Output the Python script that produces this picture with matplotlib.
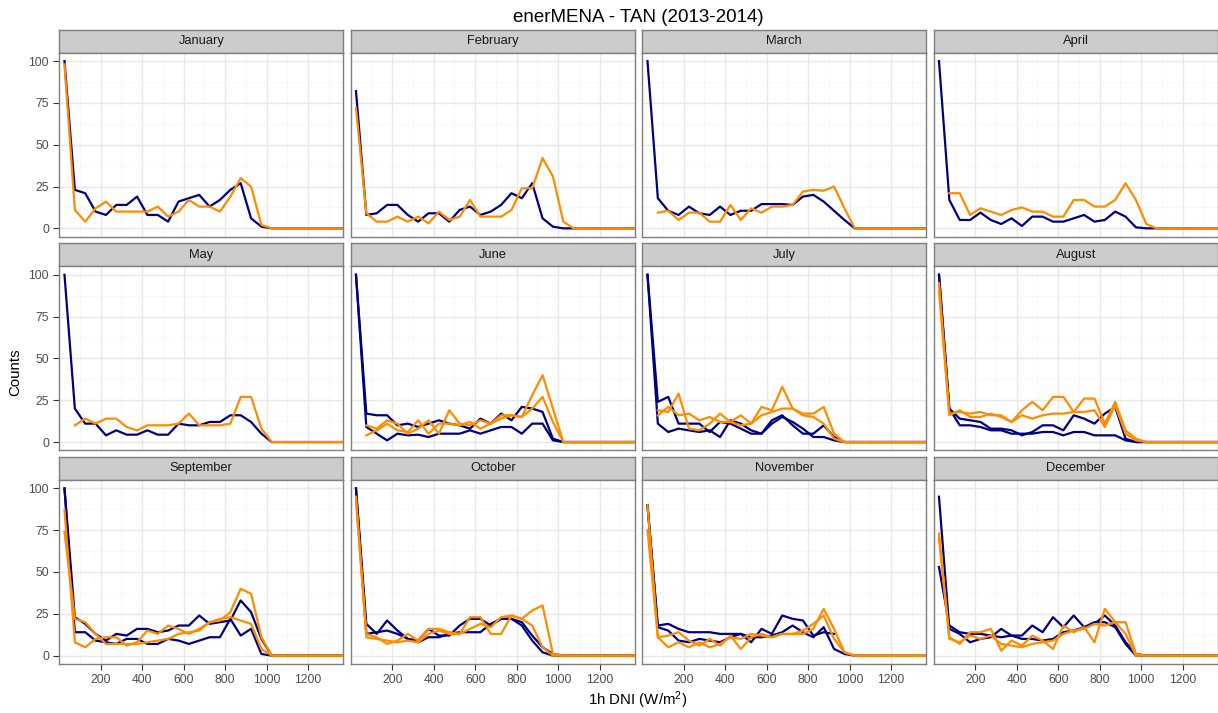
import matplotlib
matplotlib.use('Agg')
import matplotlib.pyplot as plt
import numpy as np

plt.rcParams['font.family'] = ['Liberation Sans', 'DejaVu Sans']
plt.rcParams['mathtext.default'] = 'regular'

# bin centres of 1h DNI (W/m2)
dni = np.arange(25, 1400, 50)

months = ['January', 'February', 'March', 'April', 'May', 'June', 'July',
          'August', 'September', 'October', 'November', 'December']

# values read for bins 25..1025, flat tail after that
jan_navy = [[100, 23, 21, 10, 8, 14, 14, 19, 8, 8, 4, 16, 18, 20, 13, 17, 23, 27, 6, 1, 0]]
jan_orange = [[98, 11, 4, 12, 16, 10, 10, 10, 10, 13, 7, 10, 17, 13, 13, 10, 19, 30, 25, 2, 0]]

feb_navy = [[82, 8, 9, 14, 14, 8, 4, 9, 9, 4, 11, 13, 8, 10, 14, 21, 18, 27, 6, 1, 0]]
feb_orange = [[72, 9, 4, 4, 7, 4, 7, 3, 10, 5, 7, 17, 7, 7, 7, 11, 24, 24, 42, 31, 4, 0]]

mar_navy = [[100, 18, 10.5, 8, 13, 9, 8, 13, 8, 10.5, 10.5, 14.5, 14.5, 14.5, 14, 19, 20, 16, 10.5, 5, 0]]
mar_orange = [[None, 9.4, 10.5, 5, 9.4, 9.4, 4, 4, 14, 5, 12, 9.4, 13, 13, 14, 22, 23, 22.5, 25, 12, 0]]

apr_navy = [[100, 17, 5, 5, 9.4, 5, 2.6, 6, 1.4, 7, 7, 4, 4, 6, 8, 4, 5, 10, 7, 0.6, 0]]
apr_orange = [[None, 21, 21, 8, 12, 10, 8, 11, 12.5, 10, 10, 7, 7, 17, 17, 13, 13, 17, 27, 17, 2.6, 0]]

may_navy = [[100, 20, 11, 11, 4, 7, 4.4, 4.4, 7, 4.4, 4.4, 11, 10, 10, 12, 12, 16, 16, 12, 5, 0]]
may_orange = [[None, 10, 14, 11, 14, 14, 9, 7, 10, 10, 10, 11, 17, 10, 10, 10, 11, 27, 27, 8, 0]]

jun_navy = [[100, 17, 16, 16, 10, 11, 9, 11, 13, 11, 10, 8, 14, 11, 17, 13, 21, 20, 18, 2, 0],
            [100, 9, 5, 1, 5, 4, 4.4, 3, 5, 5, 5, 7, 5, 7, 9, 9, 5, 11, 11, 1, 0]]
jun_orange = [[None, 10, 8, 13, 11, 5, 8, 13, 5, 19, 11, 10, 13, 11, 14, 16, 15, 28, 40, 20, 0],
              [None, 4, 7, 11, 7, 6, 13, 5, 11, 11, 10, 12, 8, 11, 16, 16, 15, 20, 27, 12, 0]]

jul_navy = [[100, 24, 27, 11, 11, 11, 6, 12, 11, 8, 5, 5, 13, 16, 10, 5, 5, 10, 3, 0, 0],
            [100, 11, 6, 8, 7, 6, 7, 3, 13, 11, 7, 5, 11, 15, 12, 8, 3, 3, 1, 0, 0]]
jul_orange = [[None, 19, 18, 29, 8, 7, 11, 17, 12, 16, 11, 21, 19, 33, 20, 16, 15, 11, 2, 0, 0],
              [None, 16, 21, 16, 17, 13, 15, 12, 12, 10, 11, 16, 18, 20, 20, 17, 17, 21, 5, 0, 0]]

aug_navy = [[100, 20, 10, 10, 9, 7, 7, 5, 5, 5, 6, 6, 4, 6, 6, 4, 4, 4, 1, 0, 0],
            [100, 20, 14, 13, 12, 8, 8, 7, 4, 6, 10, 10, 7, 16, 14, 11, 17, 21, 2, 0, 0]]
aug_orange = [[95, 17, 18, 17, 18, 16, 16, 12, 19, 24, 19, 27, 27, 18, 26, 26, 11, 24, 7, 2, 0],
              [90, 16, 19, 15, 15, 17, 15, 12, 16, 14, 16, 17, 17, 18, 18, 19, 9, 22, 5, 1, 0]]

sep_navy = [[100, 23, 19, 13, 9, 13, 12, 16, 16, 14, 15, 18, 18, 24, 19, 20, 21, 33, 26, 10, 0],
            [100, 14, 14, 9, 8, 7, 10, 10, 7, 7, 10, 9, 7, 9, 11, 11, 22, 12, 16, 1, 0]]
sep_orange = [[87, 8, 5, 10, 11, 11, 6, 8, 15, 13, 18, 16, 13, 16, 20, 21, 26, 40, 37, 11, 0],
              [74, 22, 20, 13, 7, 7, 7, 7, 8, 9, 10, 13, 14, 15, 20, 22, 23, 21, 19, 4, 0]]

oct_navy = [[100, 19, 13, 21, 15, 10, 9, 16, 12, 12, 18, 22, 22, 18, 22, 22, 20, 12, 5, 1, 0],
            [100, 13, 14, 15, 13, 10, 8, 11, 11, 13, 14, 14, 14, 19, 22, 22, 18, 9, 2, 0, 0]]
oct_orange = [[92, 13, 11, 7, 9, 13, 9, 16, 16, 14, 13, 23, 23, 13, 13, 24, 22, 27, 30, 1, 0],
              [95, 11, 10, 9, 8, 9, 8, 13, 15, 13, 13, 16, 19, 17, 23, 24, 22, 18, 5, 0, 0]]

nov_navy = [[90, 18, 19, 16, 14, 14, 14, 13, 13, 13, 8, 16, 13, 24, 22, 21, 12, 14, 13, None],
            [90, 17, 15, 9, 8, 10, 9, 8, 11, 13, 11, 11, 12, 14, 18, 14, 11, 17, 4, 1, 0]]
nov_orange = [[90, 11, 12, 14, 9, 6, 10, 6, 12, 4, 11, 13, 11, 13, 13, 13, 16, 28, 16, 2, 0],
              [75, 11, 5, 8, 5, 8, 5, 7, 11, 10, 13, 12, 11, 13, 13, 15, 19, 24, 10, 2, 0]]

dec_navy = [[95, 16, 13, 8, 10, 11, 16, 12, 12, 18, 14, 23, 17, 24, 17, 19, 24, 18, 8, 1, 0],
            [53, 18, 14, 13, 13, 12, 11, 12, 10, 10, 9, 10, 14, 15, 17, 20, 20, 17, 7, 0, 0]]
dec_orange = [[73, 11, 7, 14, 14, 16, 3, 9, 6, 12, 9, 4, 18, 14, 17, 8, 28, 20, 20, 1, 0],
              [70, 10, 8, 12, 10, 12, 7, 6, 5, 7, 8, 9, 13, 15, 16, 19, 18, 20, 13, 0, 0]]

navy_sets = [jan_navy, feb_navy, mar_navy, apr_navy, may_navy, jun_navy,
             jul_navy, aug_navy, sep_navy, oct_navy, nov_navy, dec_navy]
orange_sets = [jan_orange, feb_orange, mar_orange, apr_orange, may_orange, jun_orange,
               jul_orange, aug_orange, sep_orange, oct_orange, nov_orange, dec_orange]


def full(vals):
    # flat tail (0, or gap) up to the last bin
    vals = list(vals) + [vals[-1]] * (len(dni) - len(vals))
    return np.array([np.nan if v is None else v for v in vals], dtype=float)


W, H = 1218, 713
fig = plt.figure(figsize=(W / 100, H / 100), dpi=100)


def px_axes(x0, y0, w, h):
    return fig.add_axes([x0 / W, 1 - (y0 + h) / H, w / W, h / H])


col_left = [59.3, 350.8, 642.3, 933.8]
strip_top = [29.5, 243.2, 456.8]
pw, sh, ph = 284, 23.2, 184

for i, name in enumerate(months):
    r, c = divmod(i, 4)
    st = px_axes(col_left[c], strip_top[r], pw, sh)
    st.set_facecolor('#CCCCCC')
    st.set_xticks([])
    st.set_yticks([])
    for s in st.spines.values():
        s.set_color('#7F7F7F')
        s.set_linewidth(1.0)
    st.text(0.5, 0.5, name, ha='center', va='center', fontsize=9.3,
            color='#1A1A1A', transform=st.transAxes)

    ax = px_axes(col_left[c], strip_top[r] + sh, pw, ph)
    ax.set_xlim(0, 1370)
    ax.set_ylim(-5, 105)
    ax.set_xticks(range(200, 1201, 200))
    ax.set_xticks(range(100, 1301, 200), minor=True)
    ax.set_yticks([0, 25, 50, 75, 100])
    ax.set_yticks([12.5, 37.5, 62.5, 87.5], minor=True)
    ax.grid(which='major', color='#E8E8E8', lw=1.0)
    ax.grid(which='minor', color='#F6F6F6', lw=0.6)
    ax.set_axisbelow(True)
    for s in ax.spines.values():
        s.set_color('#7F7F7F')
        s.set_linewidth(1.0)
    ax.tick_params(which='minor', length=0)
    ax.tick_params(which='major', direction='out', length=4.5, color='#333333',
                   labelsize=8.7, labelcolor='#4D4D4D', pad=3)
    if c != 0:
        ax.tick_params(axis='y', left=False, labelleft=False)
    if r != 2:
        ax.tick_params(axis='x', bottom=False, labelbottom=False)

    for vals in navy_sets[i]:
        ax.plot(dni, full(vals), color='#000080', lw=1.6)
    for vals in orange_sets[i]:
        ax.plot(dni, full(vals), color='#FF8C00', lw=1.6)

fig.text(638 / W, 1 - 17 / H, 'enerMENA - TAN (2013-2014)', ha='center',
         va='center', fontsize=13.5)
fig.text(15 / W, 1 - 372 / H, 'Counts', ha='center', va='center',
         rotation=90, fontsize=10.8)
fig.text(638 / W, 1 - 700 / H, '1h DNI (W/m$^{2}$)', ha='center',
         va='center', fontsize=10.8)

fig.savefig('out.png', dpi=100)
